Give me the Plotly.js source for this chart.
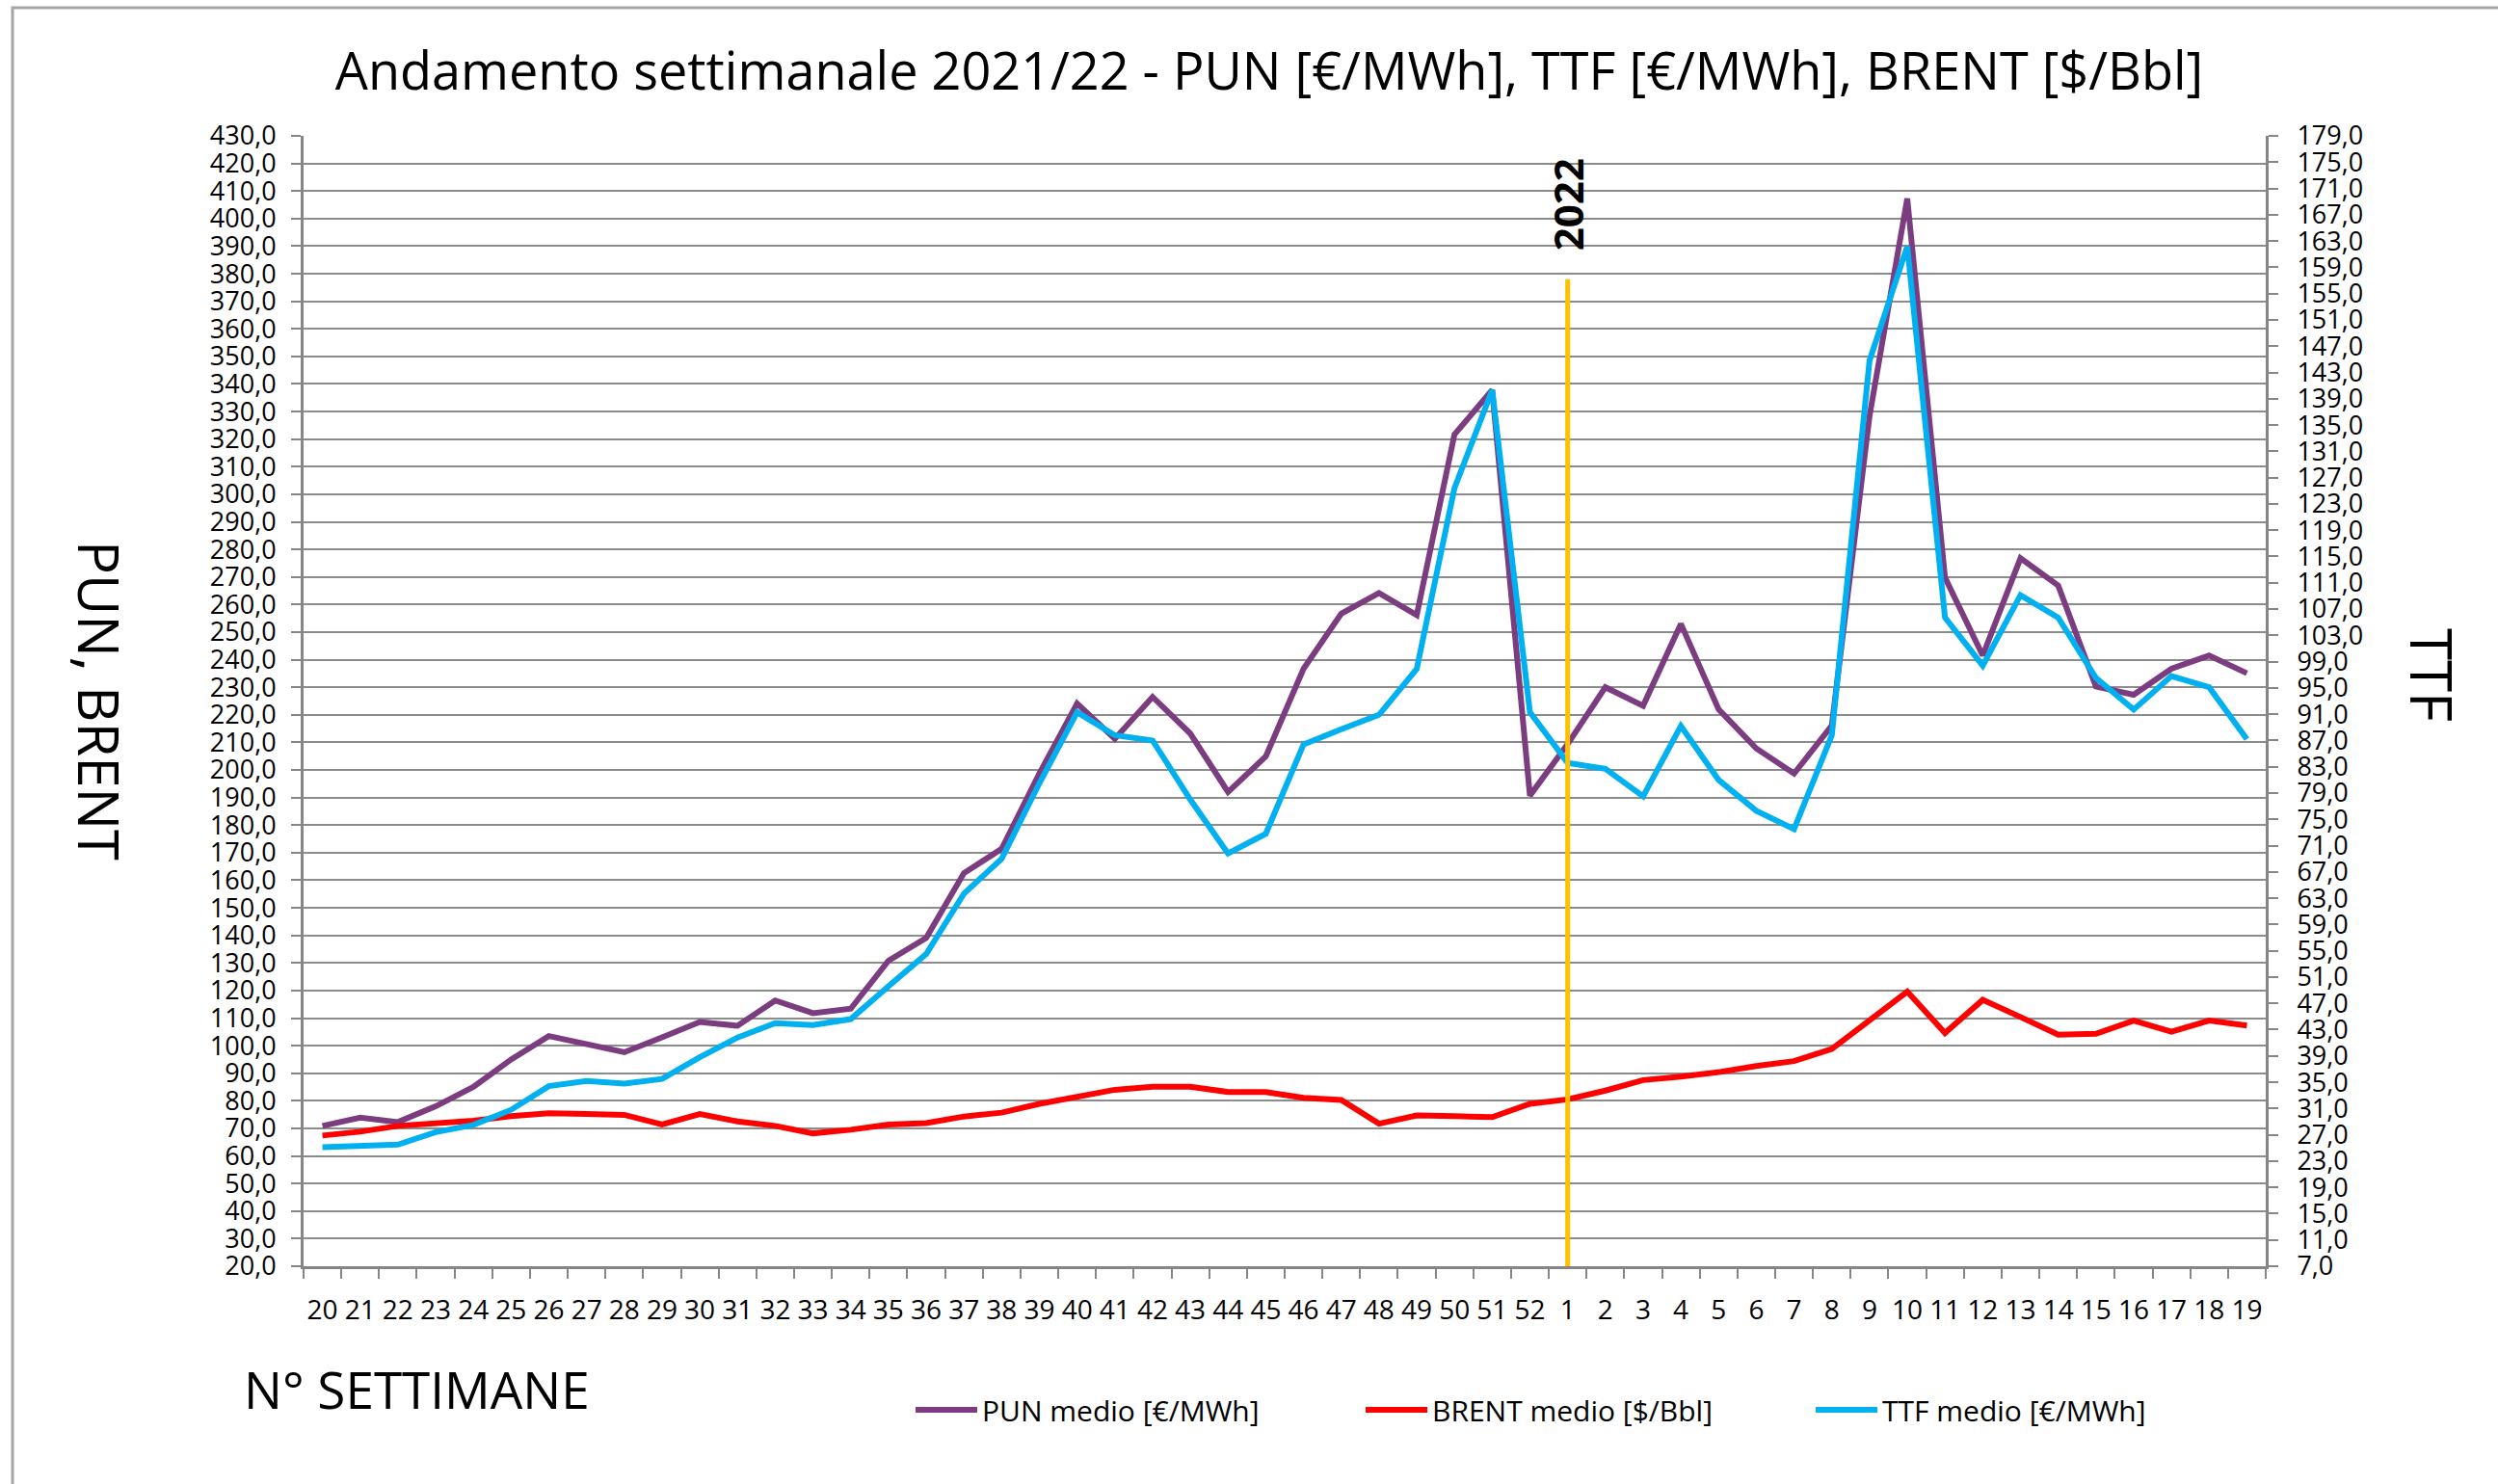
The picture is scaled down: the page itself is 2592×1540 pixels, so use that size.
<!DOCTYPE html>
<html>
<head>
<meta charset="utf-8">
<script src="https://cdn.plot.ly/plotly-3.0.1.min.js"></script>
<style>
  html, body { margin: 0; padding: 0; background: #ffffff; }
  #chart { width: 2592px; height: 1540px; }
</style>
</head>
<body>
<div id="chart"></div>
<script>
// ---- data ----
const weeks = ['20','21','22','23','24','25','26','27','28','29','30','31','32','33','34','35','36','37','38','39','40','41','42','43','44','45','46','47','48','49','50','51','52',
               '1','2','3','4','5','6','7','8','9','10','11','12','13','14','15','16','17','18','19'];

const punMedio = [70.9, 73.9, 72.3, 78.0, 85.0, 95.0, 103.5, 100.6, 97.6, 103.0, 108.6, 107.2, 116.4,
                  111.8, 113.4, 130.8, 139.1, 162.6, 171.4, 198.7, 224.1, 211.3, 226.5, 213.2, 192.0, 204.9,
                  236.7, 256.7, 264.2, 256.2, 321.7, 337.8, 190.7, 209.4, 230.0, 223.3, 253.0, 222.0, 207.8, 198.7,
                  216.1, 328.4, 407.3, 269.8, 241.5, 276.8, 266.9, 230.3, 227.3, 236.7, 241.5, 235.1];

const brentMedio = [67.4, 68.8, 70.9, 71.7, 72.8, 74.4, 75.5, 75.2, 74.9, 71.4, 75.2, 72.5, 70.9,
                    68.2, 69.5, 71.4, 71.9, 74.3, 75.7, 78.9, 81.6, 84.0, 85.1, 85.1, 83.2, 83.2,
                    81.1, 80.3, 71.7, 74.7, 74.4, 74.1, 78.9, 80.5, 83.7, 87.5, 88.8, 90.4, 92.6, 94.4,
                    98.8, 109.1, 119.6, 104.6, 116.6, 110.4, 104.0, 104.3, 109.1, 105.1, 109.1, 107.3];

const ttfMedio = [25.1, 25.3, 25.5, 27.4, 28.5, 30.8, 34.4, 35.2, 34.8, 35.5, 38.8, 41.8, 44.0,
                  43.7, 44.6, 49.6, 54.5, 63.7, 69.0, 80.5, 91.3, 87.8, 87.0, 78.0, 69.8, 72.8,
                  86.4, 88.7, 90.9, 97.9, 125.4, 140.3, 91.3, 83.6, 82.7, 78.5, 89.2, 81.0, 76.3, 73.5,
                  87.8, 144.8, 162.2, 105.7, 98.4, 109.1, 105.7, 96.5, 91.7, 96.8, 95.1, 87.2];

const seriesNames = ['PUN medio [€/MWh]', 'BRENT medio [$/Bbl]', 'TTF medio [€/MWh]'];

// year marker (week 1 of 2022), in left-axis units
const yearMarkerWeek = '1';
const yearMarkerRange = [20, 378];
const yearLabel = '2022';
const yearLabelValue = 405;

const leftRange = [20, 430];
const rightRange = [7, 179];

// category axes take shapes/annotations by serial number
const yearMarkerIdx = weeks.indexOf(yearMarkerWeek);

// ---- styles ----
const FONT = 'Open Sans, Noto Sans, sans-serif';
const GRID = '#8c8c8c';
const AXIS = '#868686';
const C_PUN = '#7b3c80';
const C_BRENT = '#ff0000';
const C_TTF = '#00b0f0';
const C_YEAR = '#ffc000';
const LW = 6;

const traces = [
  { x: weeks, y: punMedio, name: seriesNames[0], type: 'scatter', mode: 'lines',
    line: { color: C_PUN, width: LW }, xaxis: 'x', yaxis: 'y' },
  { x: weeks, y: brentMedio, name: seriesNames[1], type: 'scatter', mode: 'lines',
    line: { color: C_BRENT, width: LW }, xaxis: 'x', yaxis: 'y' },
  { x: weeks, y: ttfMedio, name: seriesNames[2], type: 'scatter', mode: 'lines',
    line: { color: C_TTF, width: LW }, xaxis: 'x', yaxis: 'y2' }
];

// plot area in pixels (for paper coordinates of free texts)
const PL = 315, PR = 2351, PT = 141, PB = 1314;
const PW = PR - PL, PH = PB - PT;
const px = v => (v - PL) / PW;
const py = v => (PB - v) / PH;

const layout = {
  width: 2592, height: 1540,
  margin: { l: PL, r: 2592 - PR, t: PT, b: 1540 - PB, pad: 0 },
  paper_bgcolor: '#ffffff', plot_bgcolor: '#ffffff',
  separators: ',.',
  font: { family: FONT, color: '#000000', size: 28 },
  showlegend: true,
  title: {
    text: 'Andamento settimanale 2021/22 - PUN [€/MWh], TTF [€/MWh], BRENT [$/Bbl]',
    font: { family: FONT, size: 54, color: '#000000' },
    xref: 'container', yref: 'container', x: 1317 / 2592, y: 1 - 74 / 1540,
    xanchor: 'center', yanchor: 'middle'
  },
  xaxis: {
    type: 'category', categoryorder: 'array', categoryarray: weeks,
    range: [-0.5, weeks.length - 0.5],
    showgrid: false, zeroline: false,
    showline: true, linecolor: AXIS, linewidth: 3,
    ticks: 'outside', tickson: 'boundaries', ticklen: 10, tickwidth: 2, tickcolor: AXIS,
    tickangle: 0, ticklabelstandoff: 18,
    tickfont: { family: FONT, size: 28, color: '#000000' },
    fixedrange: true
  },
  yaxis: {
    range: leftRange, tick0: 20, dtick: 10, tickformat: '.1f',
    showgrid: true, gridcolor: GRID, gridwidth: 2, zeroline: false,
    showline: true, linecolor: AXIS, linewidth: 3,
    ticks: 'outside', ticklen: 10, tickwidth: 2, tickcolor: AXIS,
    ticklabelstandoff: 10,
    tickfont: { family: FONT, size: 27, color: '#000000' },
    fixedrange: true
  },
  yaxis2: {
    overlaying: 'y', side: 'right',
    range: rightRange, tick0: 7, dtick: 4, tickformat: '.1f',
    showgrid: false, zeroline: false,
    showline: true, linecolor: AXIS, linewidth: 3,
    ticks: 'outside', ticklen: 10, tickwidth: 2, tickcolor: AXIS,
    ticklabelstandoff: 14,
    tickfont: { family: FONT, size: 27, color: '#000000' },
    fixedrange: true
  },
  legend: {
    orientation: 'h', x: px(945), y: py(1463), xanchor: 'left', yanchor: 'middle',
    font: { family: FONT, size: 30, color: '#000000' },
    itemwidth: 64, entrywidth: 388, entrywidthmode: 'pixels',
    bgcolor: 'rgba(0,0,0,0)', borderwidth: 0, traceorder: 'normal'
  },
  shapes: [
    { type: 'line', xref: 'x', yref: 'y', x0: yearMarkerIdx, x1: yearMarkerIdx,
      y0: yearMarkerRange[0], y1: yearMarkerRange[1], layer: 'above',
      line: { color: C_YEAR, width: 5 } },
    { type: 'rect', xref: 'paper', yref: 'paper',
      x0: px(13), x1: px(2640), y0: py(1600), y1: py(8), layer: 'below',
      line: { color: '#a6a6a6', width: 3 }, fillcolor: 'rgba(0,0,0,0)' }
  ],
  annotations: [
    { xref: 'x', yref: 'y', x: yearMarkerIdx, y: yearLabelValue, text: '<b>' + yearLabel + '</b>',
      textangle: -90, showarrow: false, xanchor: 'center', yanchor: 'middle',
      font: { family: FONT, size: 42, color: '#000000' } },
    { xref: 'paper', yref: 'paper', x: px(104), y: py(727), text: 'PUN, BRENT',
      textangle: 90, showarrow: false, xanchor: 'center', yanchor: 'middle',
      font: { family: FONT, size: 58, color: '#000000' } },
    { xref: 'paper', yref: 'paper', x: px(2524), y: py(700), text: 'TTF',
      textangle: 90, showarrow: false, xanchor: 'center', yanchor: 'middle',
      font: { family: FONT, size: 60, color: '#000000' } },
    { xref: 'paper', yref: 'paper', x: px(251), y: py(1441), text: 'N° SETTIMANE',
      showarrow: false, xanchor: 'left', yanchor: 'middle',
      font: { family: FONT, size: 53, color: '#000000' } }
  ]
};

Plotly.newPlot('chart', traces, layout, { staticPlot: true, displayModeBar: false });
</script>
</body>
</html>
